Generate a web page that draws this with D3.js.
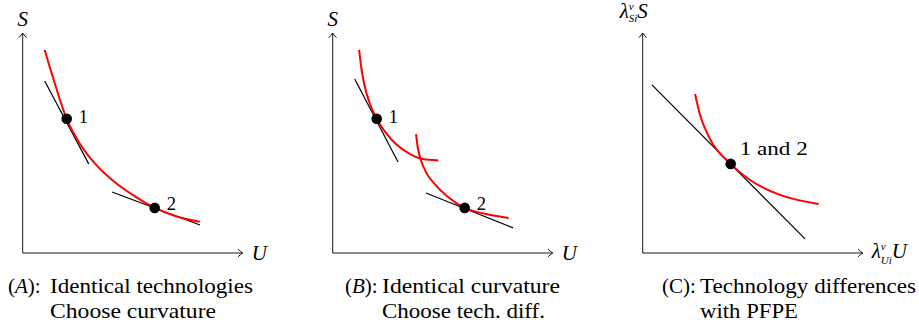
<!DOCTYPE html>
<html>
<head>
<meta charset="utf-8">
<script src="https://cdn.jsdelivr.net/npm/d3@7"></script>
<style>
  html, body { margin: 0; padding: 0; background: #fff; }
  svg { display: block; }
  svg text { font-family: "Liberation Serif", "DejaVu Serif", serif; fill: #000; }
</style>
</head>
<body>
<svg id="chart" width="919" height="324" font-family="Liberation Serif, DejaVu Serif, serif"></svg>
<script>
// ---- data (abstract units on a 0..10 plane per panel) ----
// Panel A: identical technologies, one indifference curve
const curveA = [[1.0, 9.23], [1.4, 7.9], [2.0, 6.1], [2.55, 5.05], [3.3, 4.05], [4.25, 3.17], [5.0, 2.64], [6.0, 2.05], [7.0, 1.66], [8.05, 1.42]];
const tangentsA = [[[1.0, 7.82], [3.0, 4.05]], [[4.06, 2.77], [8.06, 1.27]]];
const pointsA = [[2.0, 6.1], [6.0, 2.05]];
const pointLabelsA = ["1", "2"];

// Panel B: identical curvature, two shifted curves
const curveB1 = [[1.2, 9.23], [1.3, 8.42], [1.45, 7.6], [1.65, 6.9], [2.0, 6.1], [2.4, 5.48], [2.9, 4.93], [3.5, 4.51], [4.1, 4.27], [4.8, 4.21]];
const curveB2 = [[3.79, 5.4], [3.86, 4.83], [4.01, 4.23], [4.27, 3.62], [4.65, 3.12], [5.2, 2.58], [6.0, 2.05], [6.92, 1.78], [8.0, 1.59]];
const tangentsB = [[[1.0, 7.91], [2.97, 4.14]], [[4.24, 2.73], [8.2, 1.14]]];
const pointsB = [[2.0, 6.1], [6.0, 2.05]];
const pointLabelsB = ["1", "2"];

// Panel C: technology differences with PFPE
const curveC = [[2.38, 7.23], [2.6, 6.3], [3.0, 5.3], [4.0, 4.05], [4.88, 3.32], [6.24, 2.64], [8.0, 2.23]];
const tangentsC = [[[0.42, 7.64], [7.38, 0.64]]];
const pointsC = [[4.0, 4.05]];
const pointLabelsC = ["1 and 2"];

const captionTags = ["A", "B", "C"];
const captionLine1 = ["Identical technologies", "Identical curvature", "Technology differences"];
const captionLine2 = ["Choose curvature", "Choose tech. diff.", "with PFPE"];

// ---- layout ----
const plotSize = 220;
const originY = 253;
const layout = [
  { ox: 22.7, tagX: 8,   bodyX: 50,  end1: 253, end2: 216, italicTag: true,  labelDy: [4, 2] },
  { ox: 332.7, tagX: 345, bodyX: 382, end1: 560, end2: 545, italicTag: true,  labelDy: [4, 2] },
  { ox: 642.7, tagX: 662, bodyX: 700, end1: 916, end2: 798, italicTag: false, labelDy: [-9] }
];

const panels = [
  { curves: [curveA], tangents: tangentsA, points: pointsA, labels: pointLabelsA },
  { curves: [curveB1, curveB2], tangents: tangentsB, points: pointsB, labels: pointLabelsB },
  { curves: [curveC], tangents: tangentsC, points: pointsC, labels: pointLabelsC }
];

const svg = d3.select("#chart");

function arrowHead(g, x, y, dir) {
  // small open arrow tip; dir: "right" or "up"
  const p = d3.path();
  if (dir === "right") {
    p.moveTo(x - 4.5, y - 3.6); p.quadraticCurveTo(x - 1.6, y - 1.0, x, y);
    p.quadraticCurveTo(x - 1.6, y + 1.0, x - 4.5, y + 3.6);
  } else {
    p.moveTo(x - 3.6, y + 4.5); p.quadraticCurveTo(x - 1.0, y + 1.6, x, y);
    p.quadraticCurveTo(x + 1.0, y + 1.6, x + 3.6, y + 4.5);
  }
  g.append("path").attr("d", p.toString()).attr("fill", "none")
    .attr("stroke", "#000").attr("stroke-width", 0.9).attr("stroke-linecap", "round");
}

panels.forEach((pd, i) => {
  const L = layout[i];
  const x = d3.scaleLinear().domain([0, 10]).range([L.ox, L.ox + plotSize]);
  const y = d3.scaleLinear().domain([0, 10]).range([originY, originY - plotSize]);
  const g = svg.append("g");

  // axes
  g.append("line").attr("x1", x(0)).attr("y1", y(0)).attr("x2", x(10)).attr("y2", y(0))
    .attr("stroke", "#000").attr("stroke-width", 0.9);
  g.append("line").attr("x1", x(0)).attr("y1", y(0)).attr("x2", x(0)).attr("y2", y(10))
    .attr("stroke", "#000").attr("stroke-width", 0.9);
  arrowHead(g, x(10), y(0), "right");
  arrowHead(g, x(0), y(10), "up");

  // axis titles
  if (i < 2) {
    g.append("text").attr("x", x(0)).attr("y", 26).attr("text-anchor", "middle")
      .attr("font-size", 21).attr("font-style", "italic").text("S");
    g.append("text").attr("x", x(10) + 9).attr("y", 260)
      .attr("font-size", 21).attr("font-style", "italic").text("U");
  } else {
    const yl = g.append("text").attr("x", x(0) - 23).attr("y", 17.5).attr("font-size", 21).attr("font-style", "italic");
    yl.append("tspan").text("λ");
    yl.append("tspan").attr("font-size", 11).attr("dy", -8).text("v");
    yl.append("tspan").attr("font-size", 11).attr("dx", -5).attr("dy", 12).text("Si");
    yl.append("tspan").attr("dy", -4).text("S");
    const xl = g.append("text").attr("x", x(10) + 9).attr("y", 258).attr("font-size", 21).attr("font-style", "italic");
    xl.append("tspan").text("λ");
    xl.append("tspan").attr("font-size", 11).attr("dy", -8).text("v");
    xl.append("tspan").attr("font-size", 11).attr("dx", -5).attr("dy", 14).text("Ui");
    xl.append("tspan").attr("dy", -6).text("U");
  }

  // tangent lines
  const lineGen = d3.line().x(d => x(d[0])).y(d => y(d[1]));
  pd.tangents.forEach(t => {
    g.append("path").attr("d", lineGen(t)).attr("fill", "none")
      .attr("stroke", "#000").attr("stroke-width", 1.2);
  });

  // indifference curves
  const curveGen = d3.line().x(d => x(d[0])).y(d => y(d[1])).curve(d3.curveMonotoneX);
  pd.curves.forEach(c => {
    g.append("path").attr("d", curveGen(c)).attr("fill", "none")
      .attr("stroke", "#ff0000").attr("stroke-width", 2);
  });

  // points and their labels
  pd.points.forEach((p, k) => {
    g.append("circle").attr("cx", x(p[0])).attr("cy", y(p[1])).attr("r", 5.3).attr("fill", "#000");
    const t = g.append("text").attr("x", x(p[0]) + (i < 2 ? 12 : 9)).attr("y", y(p[1]) + L.labelDy[k])
      .attr("font-size", 18.5).text(pd.labels[k]);
    if (i === 2) t.attr("textLength", 68).attr("lengthAdjust", "spacingAndGlyphs");
  });

  // caption with hanging indent
  const tag = g.append("text").attr("x", L.tagX).attr("y", 293).attr("font-size", 21);
  tag.append("tspan").text("(");
  tag.append("tspan").attr("font-style", L.italicTag ? "italic" : "normal").text(captionTags[i]);
  tag.append("tspan").text("):");
  g.append("text").attr("x", L.bodyX).attr("y", 293).attr("font-size", 21)
    .attr("textLength", L.end1 - L.bodyX).attr("lengthAdjust", "spacingAndGlyphs").text(captionLine1[i]);
  g.append("text").attr("x", L.bodyX).attr("y", 318).attr("font-size", 21)
    .attr("textLength", L.end2 - L.bodyX).attr("lengthAdjust", "spacingAndGlyphs").text(captionLine2[i]);
});
</script>
</body>
</html>
